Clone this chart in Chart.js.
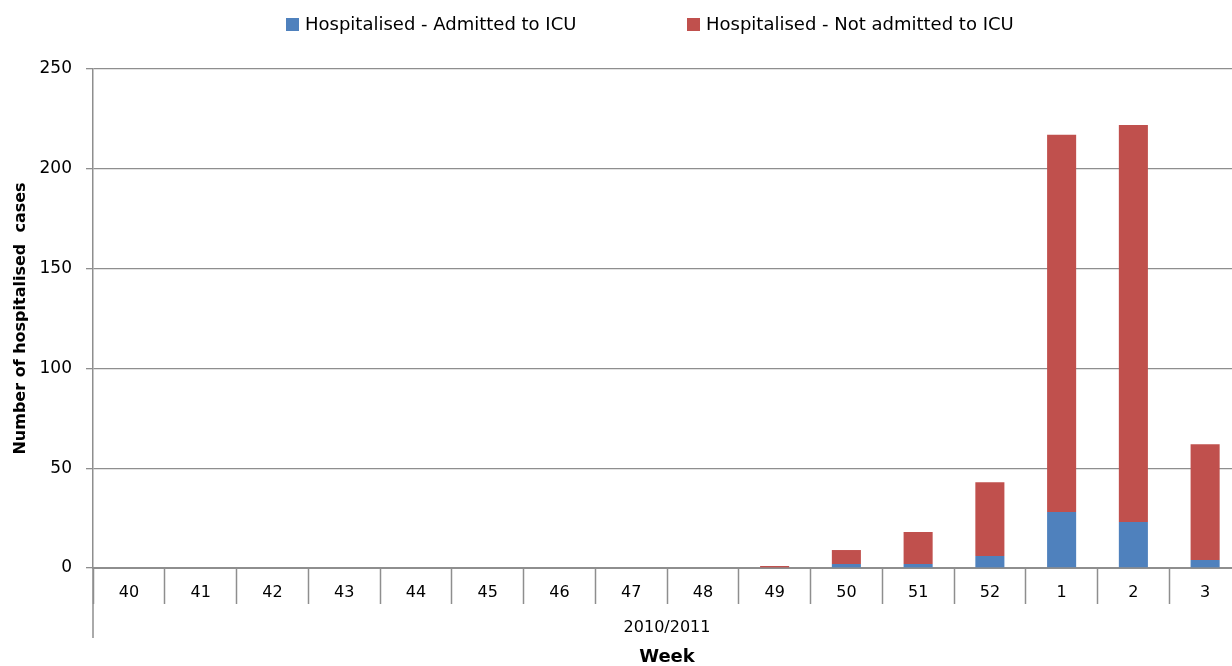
<!DOCTYPE html>
<html>
<head>
<meta charset="utf-8">
<title>Hospitalised cases by week</title>
<script src="https://cdn.jsdelivr.net/npm/chart.js@4/dist/chart.umd.min.js"></script>
<style>
  html, body { margin: 0; padding: 0; background: #fff; overflow: hidden; }
  #wrap { width: 1241px; height: 666px; }
</style>
</head>
<body>
<div id="wrap"><canvas id="c" width="1241" height="666"></canvas></div>
<script>
// Week numbers of the 2010/2011 season
const weeks = ['40', '41', '42', '43', '44', '45', '46', '47', '48', '49', '50', '51', '52', '1', '2', '3'];
// Hospitalised cases admitted to intensive care
const admittedICU = [0, 0, 0, 0, 0, 0, 0, 0, 0, 0, 2, 2, 6, 28, 23, 4];
// Hospitalised cases not admitted to intensive care
const notAdmittedICU = [0, 0, 0, 0, 0, 0, 0, 0, 0, 1, 7, 16, 37, 189, 199, 58];
const seriesNames = ['Hospitalised - Admitted to ICU', 'Hospitalised - Not admitted to ICU'];
const seasonLabel = '2010/2011';
const yTicks = [0, 50, 100, 150, 200, 250];

const FONT = "'DejaVu Sans', 'Open Sans', sans-serif";
const GRID = '#8E8E8E';

// Legend row above the plot: square swatch + text per series
const legendRow = {
  id: 'legendRow',
  afterDraw(chart, args, opts) {
    const ctx = chart.ctx;
    ctx.save();
    ctx.font = opts.font;
    ctx.textBaseline = 'middle';
    ctx.textAlign = 'left';
    chart.data.datasets.forEach((ds, i) => {
      const x = opts.x[i];
      ctx.fillStyle = ds.backgroundColor;
      ctx.fillRect(x, opts.y - opts.box / 2, opts.box, opts.box);
      ctx.fillStyle = '#000';
      ctx.fillText(ds.label, x + opts.box + opts.gap, opts.y + 0.5);
    });
    ctx.restore();
  }
};

// Second category level: group label under the week numbers, with the
// axis line carried down to enclose it
const groupLevel = {
  id: 'groupLevel',
  afterDraw(chart, args, opts) {
    const ctx = chart.ctx;
    const xs = chart.scales.x;
    const area = chart.chartArea;
    ctx.save();
    ctx.strokeStyle = GRID;
    ctx.lineWidth = 1.5;
    ctx.beginPath();
    ctx.moveTo(area.left, area.bottom);
    ctx.lineTo(area.left, opts.bottom);
    ctx.stroke();
    ctx.font = opts.font;
    ctx.fillStyle = '#000';
    ctx.textAlign = 'center';
    ctx.textBaseline = 'middle';
    ctx.fillText(opts.text, (xs.left + xs.right) / 2, opts.y);
    ctx.restore();
  }
};

new Chart(document.getElementById('c'), {
  type: 'bar',
  data: {
    labels: weeks,
    datasets: [
      {
        label: seriesNames[0],
        data: admittedICU,
        backgroundColor: '#4F81BD',
        borderWidth: 0,
        barPercentage: 0.405,
        categoryPercentage: 1
      },
      {
        label: seriesNames[1],
        data: notAdmittedICU,
        backgroundColor: '#C0504D',
        borderWidth: 0,
        barPercentage: 0.405,
        categoryPercentage: 1
      }
    ]
  },
  plugins: [legendRow, groupLevel],
  options: {
    responsive: false,
    animation: false,
    layout: { padding: { top: 69, right: 0, bottom: 0, left: 0 } },
    plugins: {
      legend: { display: false },
      tooltip: { enabled: false },
      legendRow: { x: [286, 687], y: 24.5, box: 13, gap: 6, font: "18px " + FONT },
      groupLevel: { text: seasonLabel, y: 628, bottom: 638, font: "16px " + FONT }
    },
    scales: {
      x: {
        stacked: true,
        offset: true,
        grid: {
          offset: true,
          drawOnChartArea: false,
          drawTicks: true,
          tickLength: 36,
          tickWidth: 1.5,
          tickColor: GRID,
          color: GRID
        },
        border: { display: true, color: GRID, width: 2 },
        ticks: {
          autoSkip: false,
          maxRotation: 0,
          padding: -21,
          color: '#000',
          font: { family: FONT, size: 16 }
        },
        title: {
          display: true,
          text: 'Week',
          color: '#000',
          font: { family: FONT, size: 18, weight: 'bold', lineHeight: 1 },
          padding: { top: 0, bottom: 0 }
        },
        afterFit(scale) { scale.height = 98; }
      },
      y: {
        stacked: true,
        min: 0,
        max: 250,
        afterBuildTicks(scale) { scale.ticks = yTicks.map(v => ({ value: v })); },
        grid: {
          color: GRID,
          lineWidth: 1.3,
          tickLength: 7,
          tickColor: GRID
        },
        border: { display: true, color: GRID, width: 1.5 },
        ticks: {
          padding: 14,
          color: '#000',
          font: { family: FONT, size: 17 }
        },
        title: {
          display: true,
          text: 'Number of hospitalised  cases',
          color: '#000',
          font: { family: FONT, size: 16, weight: 'bold' },
          padding: { top: 11, bottom: 0 }
        },
        afterFit(scale) { scale.width = 93; }
      }
    }
  }
});
</script>
</body>
</html>
